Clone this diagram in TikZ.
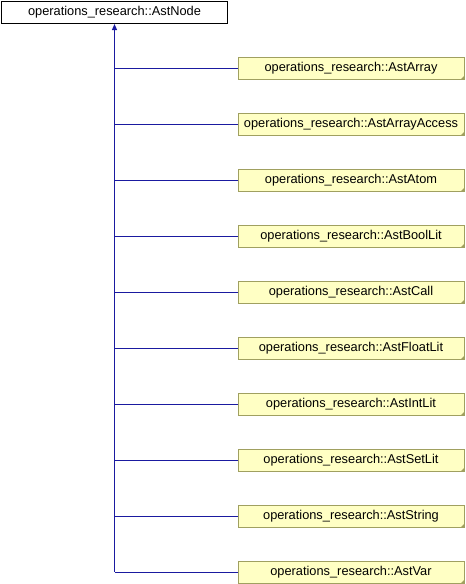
\documentclass[tikz,border=0pt]{standalone}
\usepackage{fontspec}
\setmainfont{Liberation Sans}
\usetikzlibrary{arrows.meta}
\definecolor{edgeblue}{HTML}{1A1AA0}
\definecolor{boxfill}{HTML}{FFFFC4}
\definecolor{boxline}{HTML}{A0A060}
\tikzset{
  basebox/.style={draw=black, fill=white, line width=1pt, minimum width=226pt, minimum height=22pt, inner sep=0pt, font=\fontsize{12.8}{14}\selectfont},
  childbox/.style={draw=boxline, fill=boxfill, line width=1pt, minimum width=226pt, minimum height=22pt, inner sep=0pt, font=\fontsize{12.8}{14}\selectfont},
  edge/.style={draw=edgeblue, line width=1pt},
}
\begin{document}
\begin{tikzpicture}[x=1pt,y=-1pt]
\useasboundingbox (0,0) rectangle (466,584);
\node[basebox] (base) at (114.5,12.5) {operations\_research::AstNode};
\foreach \n [count=\i from 0] in {AstArray,AstArrayAccess,AstAtom,AstBoolLit,AstCall,AstFloatLit,AstIntLit,AstSetLit,AstString,AstVar}{
  \node[childbox] (c\i) at (351,68+56*\i) {operations\_research::\n};
  \fill[boxline] (c\i.south east) -- ++(-4,0) -- ++(4,-4) -- cycle;
}
\coordinate (j) at (114.5,572);
\foreach \i in {0,...,9}{
  \draw[edge] (c\i.west) -- (c\i.west -| j);
}
\draw[edge, -{Triangle[width=5pt,length=6pt]}] (j) -- (base.south);
\end{tikzpicture}
\end{document}
